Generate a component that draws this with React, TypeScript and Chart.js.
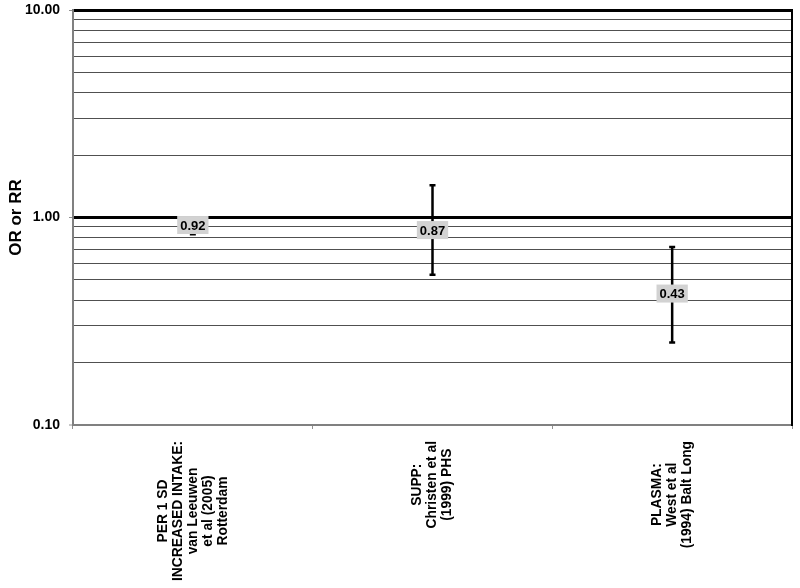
import React, { useEffect, useRef } from 'react';
import { Chart, registerables } from 'chart.js';

Chart.register(...registerables);

const categories: string[][] = [
  ['PER 1 SD', 'INCREASED INTAKE:', 'van Leeuwen', 'et al (2005)', 'Rotterdam'],
  ['SUPP:', 'Christen et al', '(1999) PHS'],
  ['PLASMA:', 'West et al', '(1994) Balt Long'],
];
const estimates = [0.92, 0.87, 0.43];
const lowerCI = [0.83, 0.53, 0.25];
const upperCI = [0.99, 1.43, 0.72];
const yTicks = [0.1, 0.2, 0.3, 0.4, 0.5, 0.6, 0.7, 0.8, 0.9, 1, 2, 3, 4, 5, 6, 7, 8, 9, 10];
const majorTicks = [0.1, 1, 10];

const FONT = '"Liberation Sans", Arial, sans-serif';

const forestPlugin = {
  id: 'forest',
  afterDatasetsDraw(chart: any) {
    const ctx = chart.ctx;
    const xs = chart.scales.x;
    const ys = chart.scales.y;
    ctx.save();
    estimates.forEach((est, i) => {
      const x = xs.getPixelForValue(i);
      const yl = ys.getPixelForValue(lowerCI[i]);
      const yu = ys.getPixelForValue(upperCI[i]);
      const ye = ys.getPixelForValue(est);
      ctx.strokeStyle = '#000';
      ctx.lineWidth = 2.5;
      ctx.beginPath();
      ctx.moveTo(x, yl);
      ctx.lineTo(x, yu);
      ctx.moveTo(x - 3, yl);
      ctx.lineTo(x + 3, yl);
      ctx.moveTo(x - 3, yu);
      ctx.lineTo(x + 3, yu);
      ctx.stroke();
      const txt = est.toFixed(2);
      ctx.font = 'bold 13px ' + FONT;
      const w = ctx.measureText(txt).width + 6;
      const h = 18;
      ctx.fillStyle = '#d2d2d2';
      ctx.fillRect(x - w / 2, ye - h / 2, w, h);
      ctx.fillStyle = '#000';
      ctx.textAlign = 'center';
      ctx.textBaseline = 'middle';
      ctx.fillText(txt, x, ye + 1);
    });
    ctx.restore();
  },
  afterDraw(chart: any) {
    const ctx = chart.ctx;
    const xs = chart.scales.x;
    const area = chart.chartArea;
    ctx.save();
    ctx.strokeStyle = '#000';
    ctx.lineWidth = 2;
    ctx.beginPath();
    ctx.moveTo(area.right, area.top - 1);
    ctx.lineTo(area.right, area.bottom + 1);
    ctx.stroke();
    ctx.font = 'bold 13.8px ' + FONT;
    ctx.fillStyle = '#000';
    ctx.textAlign = 'center';
    ctx.textBaseline = 'middle';
    categories.forEach((lines, i) => {
      const x = xs.getPixelForValue(i);
      const top = area.bottom + 16;
      const W = Math.max(...lines.map((l) => ctx.measureText(l).width));
      ctx.save();
      ctx.translate(x, top);
      ctx.rotate(-Math.PI / 2);
      lines.forEach((l, j) => {
        const off = (j - (lines.length - 1) / 2) * 15;
        ctx.fillText(l, -W / 2, off);
      });
      ctx.restore();
    });
    ctx.restore();
  },
};

export default function App() {
  const ref = useRef<HTMLCanvasElement>(null);
  useEffect(() => {
    if (!ref.current) return;
    const chart = new Chart(ref.current, {
      type: 'line',
      data: {
        labels: categories.map((c) => c.join(' ')),
        datasets: [
          {
            data: estimates,
            showLine: false,
            pointRadius: 0,
            borderColor: '#000',
            backgroundColor: '#000',
          },
        ],
      },
      options: {
        animation: false,
        responsive: false,
        maintainAspectRatio: false,
        layout: { padding: { left: 0, top: 10, right: 8, bottom: 0 } },
        plugins: { legend: { display: false }, tooltip: { enabled: false } },
        scales: {
          x: {
            type: 'category',
            offset: true,
            ticks: { display: false },
            grid: {
              offset: true,
              drawOnChartArea: false,
              drawTicks: true,
              tickLength: 4,
              tickColor: '#909090',
              tickWidth: 1,
            },
            border: { display: true, color: '#808080', width: 2 },
            afterFit(scale: any) {
              scale.height = 163;
              scale.paddingLeft = 0;
              scale.paddingRight = 0;
            },
          },
          y: {
            type: 'logarithmic',
            min: 0.1,
            max: 10,
            afterBuildTicks(scale: any) {
              scale.ticks = yTicks.map((v) => ({ value: v, major: false }));
            },
            afterFit(scale: any) {
              scale.width = 73;
              scale.paddingTop = 0;
              scale.paddingBottom = 0;
            },
            ticks: {
              autoSkip: false,
              padding: 9,
              color: '#000',
              font: { family: FONT, size: 14, weight: 'bold' },
              callback: (v: any) => (majorTicks.includes(Number(v)) ? Number(v).toFixed(2) : ''),
            },
            grid: {
              drawTicks: true,
              tickLength: 4,
              color: (c: any) => {
                const v = c.tick ? c.tick.value : 0;
                if (v === 1 || v === 10) return '#000';
                if (v === 0.1) return '#808080';
                return '#505050';
              },
              lineWidth: (c: any) => {
                const v = c.tick ? c.tick.value : 0;
                if (v === 1 || v === 10) return 3;
                if (v === 0.1) return 2;
                return 1;
              },
              tickColor: (c: any) => {
                const v = c.tick ? c.tick.value : 0;
                return majorTicks.includes(v) ? '#909090' : 'rgba(0,0,0,0)';
              },
              tickWidth: 1,
            },
            border: { display: true, color: '#808080', width: 2 },
            title: {
              display: true,
              text: 'OR or RR',
              color: '#000',
              font: { family: FONT, size: 17, weight: 'bold' },
              padding: { top: 6, bottom: 0 },
            },
          },
        },
      },
      plugins: [forestPlugin],
    });
    return () => chart.destroy();
  }, []);
  return (
    <div style={{ position: 'absolute', left: 0, top: 0, width: 800, height: 588, background: '#fff' }}>
      <canvas ref={ref} width={800} height={588} style={{ display: 'block' }} />
    </div>
  );
}
